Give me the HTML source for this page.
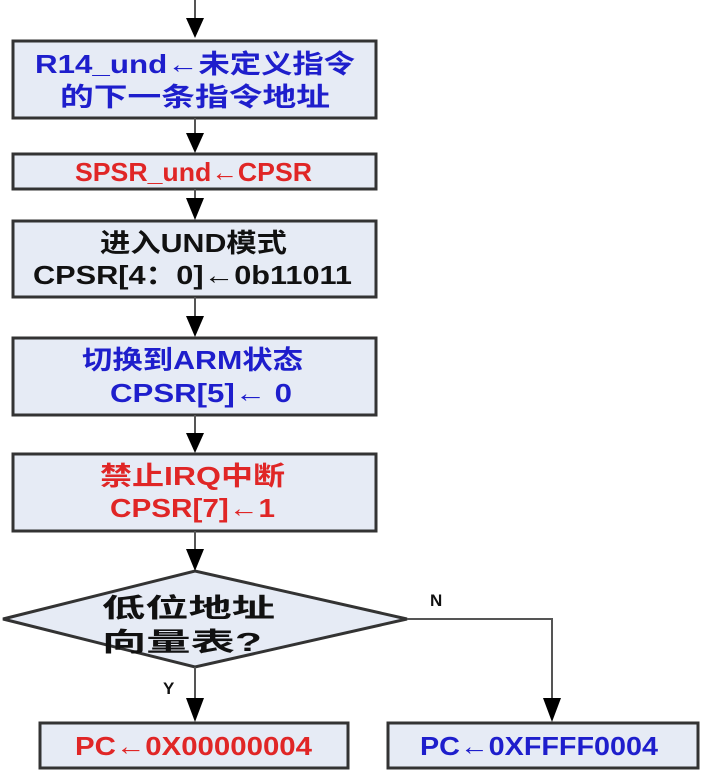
<!DOCTYPE html>
<html><head><meta charset="utf-8"><style>
html,body{margin:0;padding:0;background:#fff;width:704px;height:772px;overflow:hidden}
text{font-family:"Liberation Sans","Noto Sans CJK SC",sans-serif;font-weight:bold;font-size:26px}
.b{fill:#1e1ecc}.r{fill:#e02626}.k{fill:#111}
</style></head><body>
<svg width="704" height="772" viewBox="0 0 704 772" xmlns="http://www.w3.org/2000/svg">
<g stroke="#333" stroke-width="3" fill="#e6ebf5">
<rect x="13" y="41" width="363" height="77"/>
<rect x="13" y="154" width="363" height="35"/>
<rect x="13" y="221" width="363" height="76"/>
<rect x="13" y="338" width="363" height="77"/>
<rect x="13" y="454" width="363" height="77"/>
<polygon points="3,619 195,571 407,619 195,667"/>
<rect x="40" y="723" width="308" height="45"/>
<rect x="388" y="723" width="310" height="45"/>
</g>
<g stroke="#555" stroke-width="2" fill="none">
<line x1="195" y1="0" x2="195" y2="20"/>
<line x1="195" y1="118" x2="195" y2="135"/>
<line x1="195" y1="189" x2="195" y2="200"/>
<line x1="195" y1="297" x2="195" y2="318"/>
<line x1="195" y1="415" x2="195" y2="435"/>
<line x1="195" y1="531" x2="195" y2="550"/>
<line x1="195" y1="667" x2="195" y2="700"/>
<polyline points="407,619 552,619 552,700"/>
</g>
<g fill="#000">
<polygon points="186,18 204,18 195,38"/>
<polygon points="186,133 204,133 195,153"/>
<polygon points="186,198 204,198 195,220"/>
<polygon points="186,316 204,316 195,337"/>
<polygon points="186,433 204,433 195,453"/>
<polygon points="186,549 204,549 195,571"/>
<polygon points="186,698 204,698 195,722"/>
<polygon points="543,698 561,698 552,722"/>
</g>
<text class="b" x="35" y="73" textLength="320" lengthAdjust="spacingAndGlyphs">R14_und←未定义指令</text>
<text class="b" x="60" y="106" textLength="270" lengthAdjust="spacingAndGlyphs">的下一条指令地址</text>
<text class="r" x="75" y="181" textLength="237" lengthAdjust="spacingAndGlyphs">SPSR_und←CPSR</text>
<text class="k" x="100" y="252" textLength="187" lengthAdjust="spacingAndGlyphs">进入UND模式</text>
<text class="k" x="33" y="284" textLength="319" lengthAdjust="spacingAndGlyphs">CPSR[4：0]←0b11011</text>
<text class="b" x="82" y="369" textLength="221" lengthAdjust="spacingAndGlyphs">切换到ARM状态</text>
<text class="b" x="110" y="402" textLength="182" lengthAdjust="spacingAndGlyphs">CPSR[5]← 0</text>
<text class="r" x="100" y="485" textLength="185" lengthAdjust="spacingAndGlyphs">禁止IRQ中断</text>
<text class="r" x="110" y="517" textLength="165" lengthAdjust="spacingAndGlyphs">CPSR[7]←1</text>
<text class="k" x="102" y="617" textLength="173" lengthAdjust="spacingAndGlyphs">低位地址</text>
<text class="k" x="102" y="651" textLength="160" lengthAdjust="spacingAndGlyphs">向量表?</text>
<text class="k" x="430" y="606" style="font-size:17px">N</text>
<text class="k" x="163" y="694" style="font-size:17px">Y</text>
<text class="r" x="75" y="755" textLength="237" lengthAdjust="spacingAndGlyphs">PC←0X00000004</text>
<text class="b" x="420" y="755" textLength="238" lengthAdjust="spacingAndGlyphs">PC←0XFFFF0004</text>
</svg>
</body></html>
